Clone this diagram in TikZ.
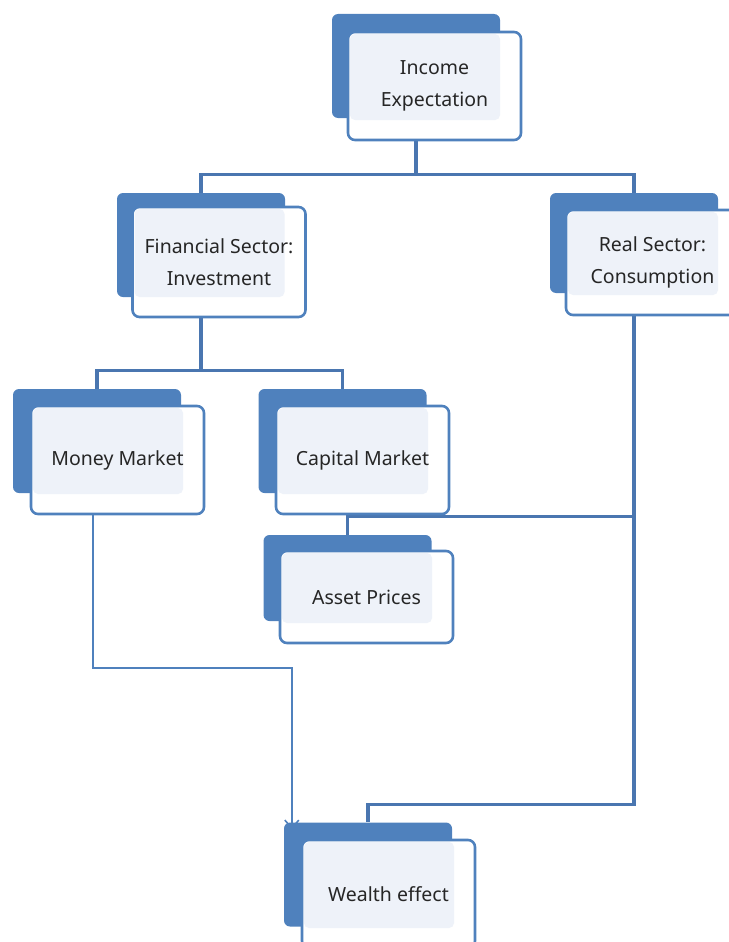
\documentclass[tikz,border=0pt]{standalone}
\usepackage{fontspec}
\setmainfont{Noto Sans}
\usetikzlibrary{arrows.meta}
\usetikzlibrary{positioning}
\usetikzlibrary{calc}
\definecolor{backblue}{HTML}{4F81BD}
\definecolor{lineblue}{HTML}{4A76B0}
\definecolor{paleblue}{HTML}{EEF2F9}
\definecolor{textgray}{HTML}{262626}

\begin{document}
\begin{tikzpicture}[x=1pt,y=-1pt,
        backbox/.style={rectangle, rounded corners=6pt, fill=backblue, inner sep=0pt,
            minimum width=168pt, minimum height=104pt},
        frontbox/.style={rectangle, rounded corners=7pt, draw=backblue, line width=2.6pt,
            fill=white, minimum width=173pt, minimum height=108pt, align=center,
            text=textgray, font=\fontsize{19.5}{32}\selectfont,
            path picture={\fill[paleblue, rounded corners=5pt]
                ([shift={(2pt,-2pt)}]path picture bounding box.north west) rectangle
                ([shift={(-21pt,20pt)}]path picture bounding box.south east);}},
        conn/.style={lineblue, line width=3.1pt},
        thinconn/.style={backblue, line width=1.9pt}]
        \useasboundingbox (0,0) rectangle (728,942);

        % back blocks
        \node[backbox] (incB) at (416,66) {};
        \node[backbox] (fsB) at (201,245) {};
        \node[backbox, minimum height=100pt] (rsB) at (634,243) {};
        \node[backbox] (mmB) at (97,441) {};
        \node[backbox] (cmB) at (342.5,441) {};
        \node[backbox, minimum height=86pt] (apB) at (347.5,578) {};
        \node[backbox] (weB) at (368,874.5) {};

        % connectors
        \draw[conn] (incB.south) -- ++(0,56) coordinate (topsplit) -| (fsB.north);
        \draw[conn] (topsplit) -| (rsB.north);
        \draw[conn] (fsB.south) -- ++(0,73) coordinate (finsplit) -| (mmB.north);
        \draw[conn] (finsplit) -| (cmB.north);
        \draw[conn] (apB.north) -- ++(0,-18) -| (rsB.south);
        \draw[conn] (rsB.south) -- ++(0,511) -| (weB.north);
        \draw[thinconn,-{Straight Barb[length=8pt,width=14pt,line width=1.6pt]}] ([xshift=-4pt]mmB.south)
            -- ++(0,175) -| ([shift={(8pt,-7pt)}]weB.north west);

        % front blocks
        \node[frontbox] (inc) at (434.5,86) {Income\\Expectation};
        \node[frontbox, minimum height=110pt] (fs) at (219,262) {Financial Sector:\\Investment};
        \node[frontbox, minimum height=105pt] (rs) at (652.5,262.5) {Real Sector:\\Consumption};
        \node[frontbox] (mm) at (117.5,460) {Money Market};
        \node[frontbox] (cm) at (362.5,460) {Capital Market};
        \node[frontbox, minimum height=92pt] (ap) at (366.5,597) {Asset Prices};
        \node[frontbox] (we) at (388.5,894) {Wealth effect};
    \end{tikzpicture}
\end{document}
